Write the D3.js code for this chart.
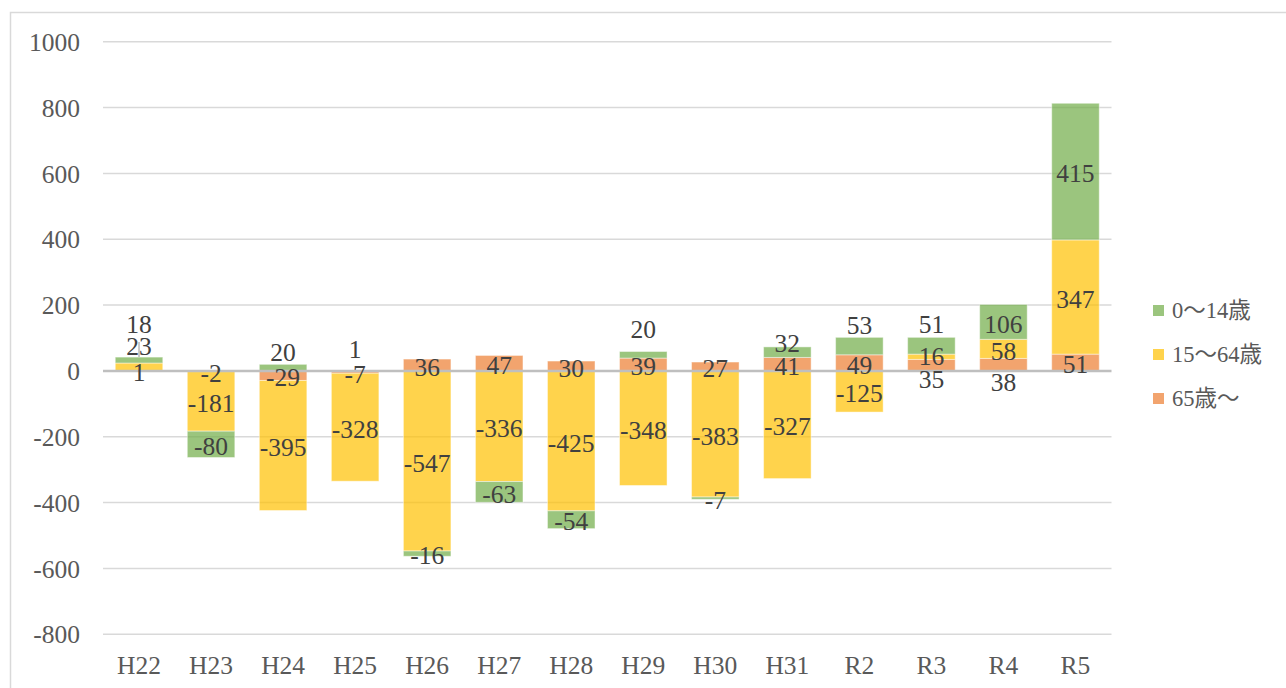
<!DOCTYPE html>
<html>
<head>
<meta charset="utf-8">
<script src="https://cdn.jsdelivr.net/npm/d3@7"></script>
<style>
  html, body { margin: 0; padding: 0; background: #fff; }
  svg { display: block; }
  text { font-family: "Liberation Serif", "Noto Sans CJK JP", serif; }
</style>
</head>
<body>
<script>
// ---- data ----
const categories = ["H22","H23","H24","H25","H26","H27","H28","H29","H30","H31","R2","R3","R4","R5"];
const age0_14  = [18, -80, 20, 1, -16, -63, -54, 20, -7, 32, 53, 51, 106, 415];
const age15_64 = [23, -181, -395, -328, -547, -336, -425, -348, -383, -327, -125, 16, 58, 347];
const age65    = [1, -2, -29, -7, 36, 47, 30, 39, 27, 41, 49, 35, 38, 51];
const seriesNames = ["0〜14歳", "15〜64歳", "65歳〜"];
const yTicks = [-800, -600, -400, -200, 0, 200, 400, 600, 800, 1000];
// manual data-label nudges (px) for small segments, like the source chart
const labelNudges = [
  ["0〜14歳", "H22", -38], ["15〜64歳", "H22", -22], ["0〜14歳", "H24", -17],
  ["0〜14歳", "H25", -23], ["0〜14歳", "H29", -27], ["0〜14歳", "H31", -11],
  ["0〜14歳", "R2", -23], ["0〜14歳", "R3", -23], ["15〜64歳", "R3", -2],
  ["65歳〜", "R3", 12], ["65歳〜", "R4", 16]
];

const colors = { "0〜14歳": "#70AD47", "15〜64歳": "#FFC000", "65歳〜": "#ED7D31" };

// ---- build table ----
const rows = categories.map((c, i) => ({
  cat: c,
  "0〜14歳": age0_14[i],
  "15〜64歳": age15_64[i],
  "65歳〜": age65[i]
}));
// stacking order: 65 nearest axis, then 15-64, then 0-14
const stackKeys = ["65歳〜", "15〜64歳", "0〜14歳"];
const stacked = d3.stack().keys(stackKeys).offset(d3.stackOffsetDiverging)(rows);

const W = 1286, H = 688;
const svg = d3.select("body").append("svg").attr("width", W).attr("height", H);

// chart border
svg.append("rect").attr("x", 10.5).attr("y", 12.5).attr("width", W + 20).attr("height", H + 20)
  .attr("fill", "none").attr("stroke", "#d9d9d9").attr("stroke-width", 1.5);

const x = d3.scaleBand().domain(categories).range([103, 1111.5]).paddingInner(0.34).paddingOuter(0.17);
const y = d3.scaleLinear().domain([-800, 1000]).range([634.3, 41.7]);

// gridlines
svg.append("g").selectAll("line").data(yTicks.filter(t => t !== 0)).join("line")
  .attr("x1", 103).attr("x2", 1111.5)
  .attr("y1", d => y(d)).attr("y2", d => y(d))
  .attr("stroke", "#d9d9d9").attr("stroke-width", 1.5);

// y axis labels
const yAxis = d3.axisLeft(y).tickValues(yTicks).tickSize(0).tickPadding(0).tickFormat(d => String(d));
const yg = svg.append("g").attr("transform", "translate(80,0)").call(yAxis);
yg.select(".domain").remove();
yg.attr("font-family", null);
yg.selectAll("text").attr("font-size", 25.5).attr("fill", "#595959").attr("dy", "0.34em");

// bars
const layers = svg.append("g").selectAll("g").data(stacked).join("g")
  .attr("fill", d => colors[d.key]).attr("fill-opacity", 0.7);
layers.selectAll("rect").data(d => d).join("rect")
  .attr("x", d => x(d.data.cat))
  .attr("width", x.bandwidth())
  .attr("y", d => y(Math.max(d[0], d[1])))
  .attr("height", d => Math.abs(y(d[0]) - y(d[1])))
  .attr("stroke", "#ffffff").attr("stroke-opacity", 0.45).attr("stroke-width", 1);

// zero axis line
svg.append("line").attr("x1", 103).attr("x2", 1111.5).attr("y1", y(0)).attr("y2", y(0))
  .attr("stroke", "#bfbfbf").attr("stroke-width", 2.5);

// x axis labels
const xAxis = d3.axisBottom(x).tickSize(0).tickPadding(0);
const xg = svg.append("g").attr("transform", "translate(0,665)").call(xAxis);
xg.select(".domain").remove();
xg.attr("font-family", null);
xg.selectAll("text").attr("font-size", 25.5).attr("fill", "#595959").attr("dy", "0.34em");

// leader line for H22 15-64 label
const h22top = stacked.find(s => s.key === "0〜14歳")[0];
svg.append("line")
  .attr("x1", x("H22") + x.bandwidth() / 2).attr("x2", x("H22") + x.bandwidth() / 2)
  .attr("y1", y(h22top[1])).attr("y2", y(h22top[1]) - 15)
  .attr("stroke", "#a6a6a6").attr("stroke-width", 1.2);

// data labels
const nudge = (k, c) => { const f = labelNudges.find(n => n[0] === k && n[1] === c); return f ? f[2] : 0; };
const lab = svg.append("g");
stacked.forEach(layer => {
  lab.selectAll(null).data(layer).join("text")
    .attr("x", d => x(d.data.cat) + x.bandwidth() / 2)
    .attr("y", d => y((d[0] + d[1]) / 2) + 2 + nudge(layer.key, d.data.cat))
    .attr("dy", "0.34em")
    .attr("text-anchor", "middle")
    .attr("font-size", 25.5).attr("fill", "#404040")
    .text(d => d.data[layer.key]);
});

// legend
const legendY = [310.5, 354.5, 398.5];
const lg = svg.append("g").selectAll("g").data(seriesNames).join("g")
  .attr("transform", (d, i) => `translate(1153,${legendY[i]})`);
lg.append("rect").attr("x", 0).attr("y", -5.5).attr("width", 11).attr("height", 11)
  .attr("fill", d => colors[d]).attr("fill-opacity", 0.7);
lg.append("text").attr("x", 19).attr("y", 0).attr("dy", "0.34em")
  .attr("font-size", 22.5).attr("fill", "#595959").text(d => d);
</script>
</body>
</html>
